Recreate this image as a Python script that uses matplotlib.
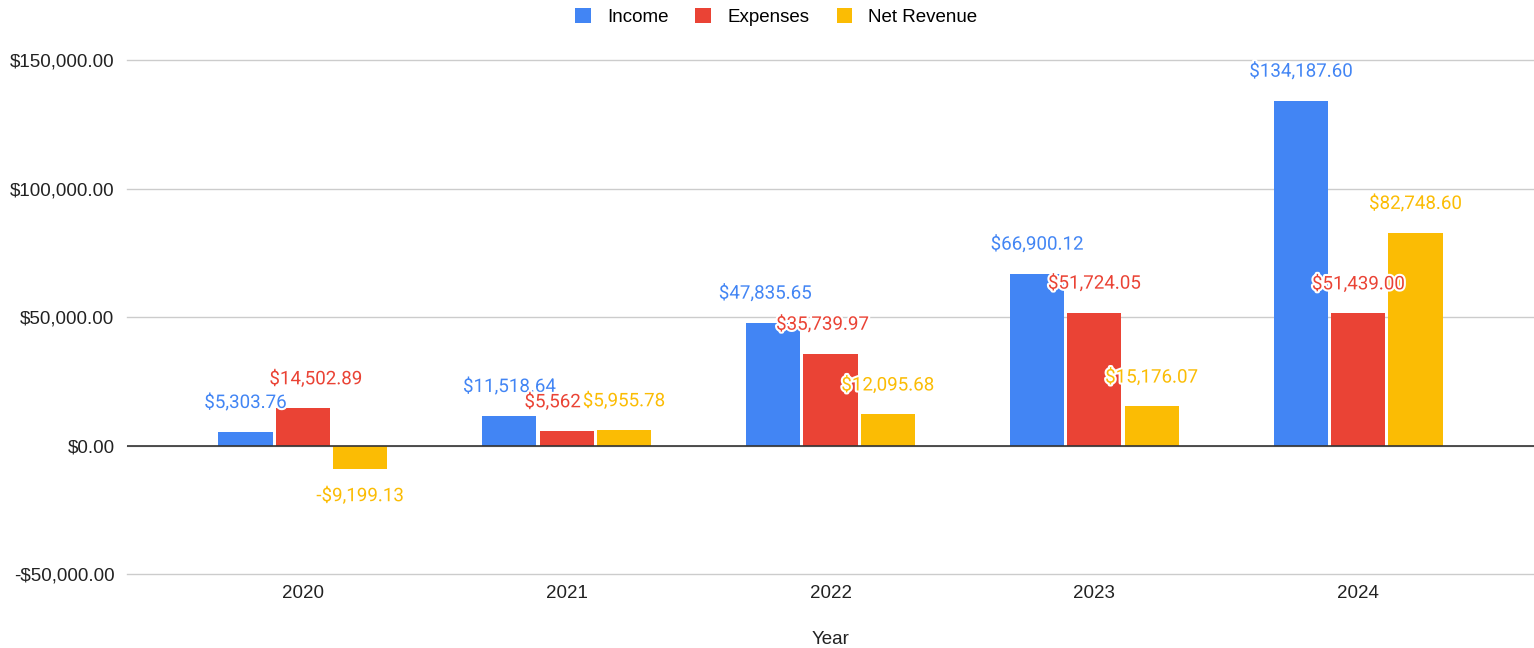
import numpy as np
import matplotlib
matplotlib.use("Agg")
import matplotlib.pyplot as plt
import matplotlib.patheffects as pe
from matplotlib.ticker import FuncFormatter
from matplotlib.patches import Patch

years = ["2020", "2021", "2022", "2023", "2024"]
income = [5303.76, 11518.64, 47835.65, 66900.12, 134187.60]
expenses = [14502.89, 5562.86, 35739.97, 51724.05, 51439.00]
net_revenue = [-9199.13, 5955.78, 12095.68, 15176.07, 82748.60]

series_names = ["Income", "Expenses", "Net Revenue"]
colors = ["#4285F4", "#EA4335", "#FBBC04"]


def money(v):
    s = "${:,.2f}".format(abs(v))
    return "-" + s if v < 0 else s


fig = plt.figure(figsize=(15.34, 6.48), dpi=100)
ax = fig.add_axes([0.0828, 0.1142, 0.9172, 0.7932])

x = np.arange(len(years))
width = 0.205
step = 0.217
halo = [pe.withStroke(linewidth=3, foreground="white")]

for i, (vals, col) in enumerate(zip([income, expenses, net_revenue], colors)):
    pos = x + (i - 1) * step
    ax.bar(pos, vals, width=width, color=col, zorder=3)
    for j, (p, v) in enumerate(zip(pos, vals)):
        txt = money(v)
        dx = 0
        # google charts squeezes the overlapping 2021 expense label
        if i == 1 and j == 1:
            txt = txt[:-3]
            dx = -14
        if i == 1 and j == 0:
            dx = 13
        if i == 0 and j == 2:
            dx = -8
        if i == 1 and j == 2:
            dx = -8
        off = 29 if v >= 0 else -27
        ax.annotate(txt, (p, v), xytext=(dx * 0.72, off * 0.72),
                    textcoords="offset points", ha="center", va="center",
                    fontsize=13.5, family="Roboto", color=col,
                    path_effects=halo, zorder=5)

ax.set_xlim(-0.5 - 0.166, len(years) - 0.5 + 0.166)
ax.set_ylim(-50000, 150000)
ax.set_yticks([-50000, 0, 50000, 100000, 150000])
ax.yaxis.set_major_formatter(FuncFormatter(lambda v, _: money(v)))
ax.set_xticks(x)
ax.set_xticklabels(years)
ax.grid(axis="y", color="#cccccc", linewidth=1, zorder=0)
for gl in ax.get_ygridlines():
    gl.set_clip_on(False)
ax.axhline(0, color="#333333", linewidth=1.2, zorder=4)
for s in ax.spines.values():
    s.set_visible(False)
ax.tick_params(length=0, labelsize=13.5, labelcolor="#222222")
ax.tick_params(axis="y", pad=9)
ax.tick_params(axis="x", pad=8)
for lab in ax.get_xticklabels() + ax.get_yticklabels():
    lab.set_family("Liberation Sans")
ax.set_xlabel("Year", fontsize=13.5, family="Liberation Sans",
              color="#222222", labelpad=21)

handles = [Patch(facecolor=c, edgecolor="none", label=n)
           for n, c in zip(series_names, colors)]
fig.legend(handles=handles, loc="upper center", bbox_to_anchor=(0.506, 1.014),
           ncol=3, frameon=False, handlelength=0.85, handleheight=0.85,
           handletextpad=0.85, columnspacing=1.45,
           prop={"family": "Liberation Sans", "size": 13.5})

fig.savefig("out.png", dpi=100)
